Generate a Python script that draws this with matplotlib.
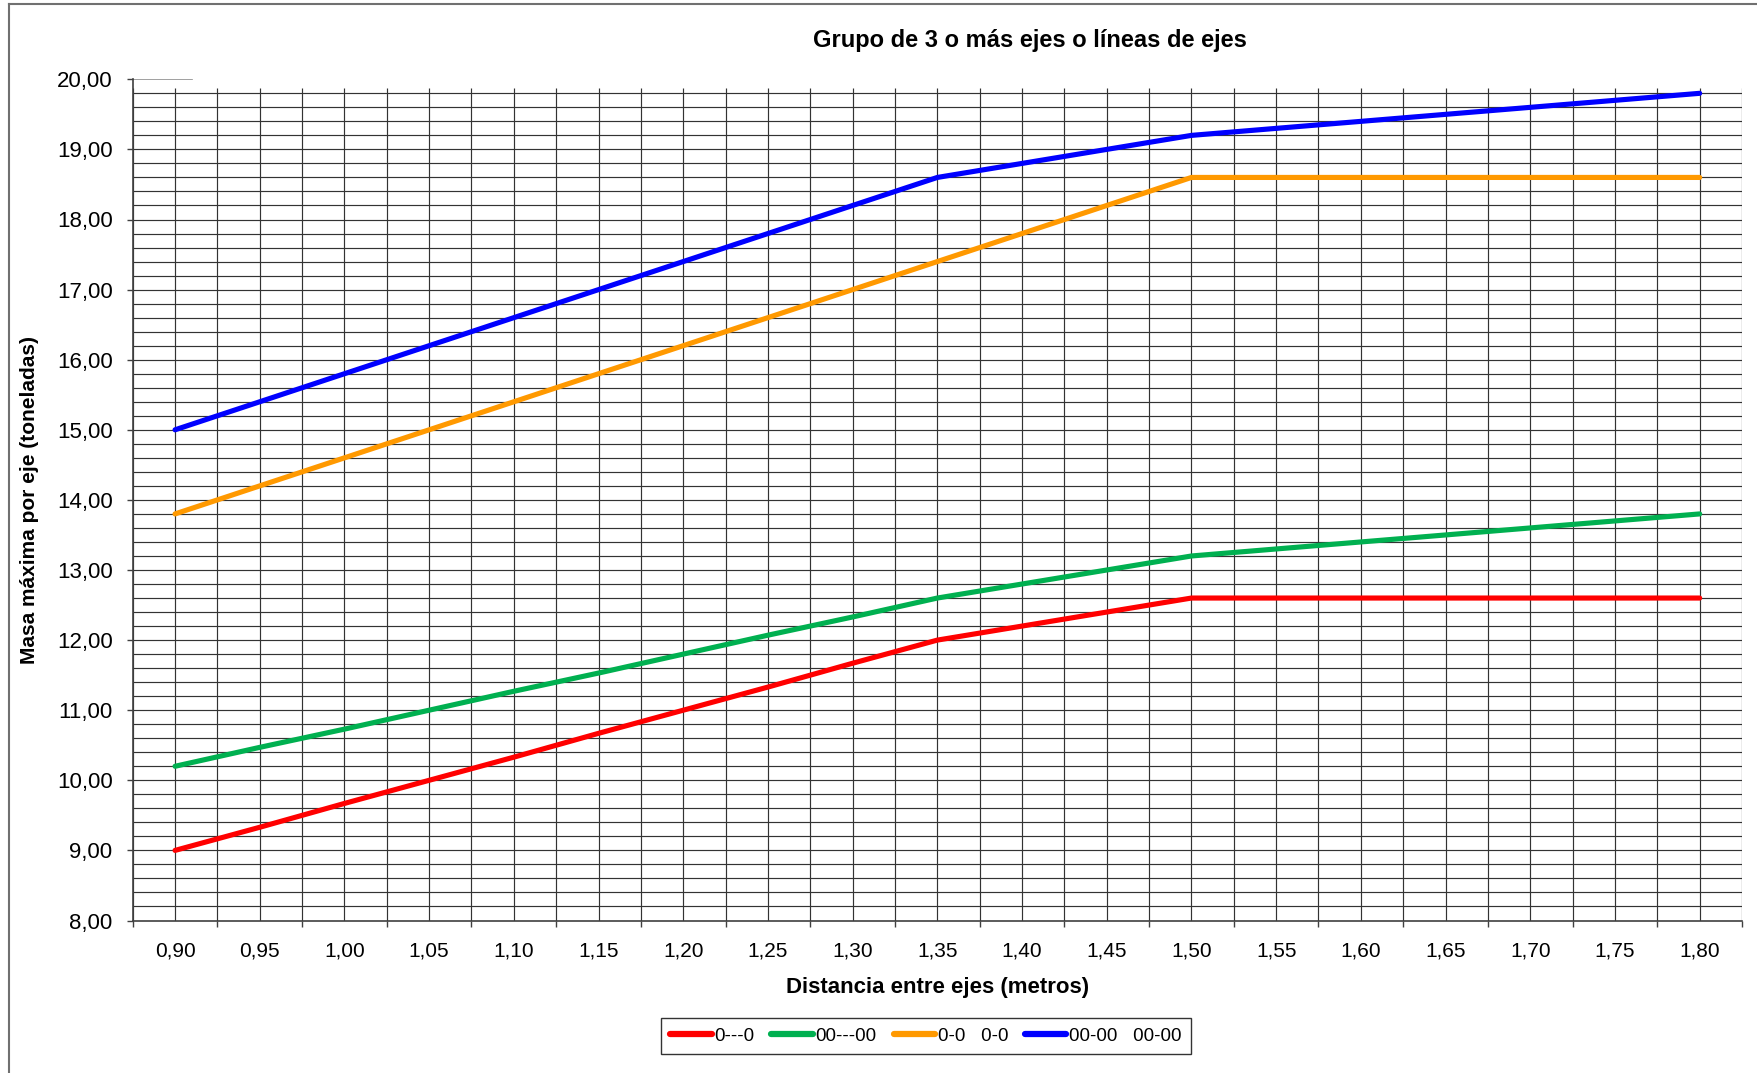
import matplotlib
matplotlib.use("Agg")
import matplotlib.pyplot as plt
from matplotlib.lines import Line2D
import numpy as np

plt.rcParams['font.family'] = ['Liberation Sans', 'DejaVu Sans']

categories = ["0,90", "0,95", "1,00", "1,05", "1,10", "1,15", "1,20", "1,25", "1,30", "1,35",
              "1,40", "1,45", "1,50", "1,55", "1,60", "1,65", "1,70", "1,75", "1,80"]
red_0_0 = [9.00, 9.33, 9.67, 10.00, 10.33, 10.67, 11.00, 11.33, 11.67, 12.00,
           12.20, 12.40, 12.60, 12.60, 12.60, 12.60, 12.60, 12.60, 12.60]
green_00_00 = [10.20, 10.47, 10.73, 11.00, 11.27, 11.53, 11.80, 12.07, 12.33, 12.60,
               12.80, 13.00, 13.20, 13.30, 13.40, 13.50, 13.60, 13.70, 13.80]
orange_00 = [13.80, 14.20, 14.60, 15.00, 15.40, 15.80, 16.20, 16.60, 17.00, 17.40,
             17.80, 18.20, 18.60, 18.60, 18.60, 18.60, 18.60, 18.60, 18.60]
blue_0000 = [15.00, 15.40, 15.80, 16.20, 16.60, 17.00, 17.40, 17.80, 18.20, 18.60,
             18.80, 19.00, 19.20, 19.30, 19.40, 19.50, 19.60, 19.70, 19.80]
labels = ["0---0", "00---00", "0-0   0-0", "00-00   00-00"]
colors = ["#FF0000", "#00B050", "#FF9900", "#0000FF"]
series = [red_0_0, green_00_00, orange_00, blue_0000]
y_ticks = [8, 9, 10, 11, 12, 13, 14, 15, 16, 17, 18, 19, 20]

W, H = 1758, 1073
fig = plt.figure(figsize=(W / 100, H / 100), dpi=100)
left, right, top, bottom = 132.7, 1742, 79.3, 920.5
ax = fig.add_axes([left / W, 1 - bottom / H, (right - left) / W, (bottom - top) / H])

n = len(categories)
x = np.arange(n)
ax.set_xlim(-0.5, n - 0.5)
ax.set_ylim(8, 20)

grid_top = 19.875
grid_col = "#333333"
for yv in np.arange(8.2, 19.81, 0.2):
    ax.axhline(yv, color=grid_col, lw=0.85, zorder=1)
ax.axhline(20, xmin=0, xmax=0.037, color="#909090", lw=1.2, zorder=1)
for xv in np.arange(-0.5, n - 0.4, 0.5):
    ax.plot([xv, xv], [8, grid_top], color=grid_col, lw=0.85, zorder=1, solid_capstyle='butt')

handles = []
for vals, lab, c in zip(series, labels, colors):
    ax.plot(x, vals, color=c, lw=3.7, zorder=3, solid_capstyle='round', solid_joinstyle='round')
    handles.append(Line2D([0], [0], color=c, lw=4.5, solid_capstyle='round', label=lab))

for s in ["top", "right"]:
    ax.spines[s].set_visible(False)
for s in ["left", "bottom"]:
    ax.spines[s].set_color("#404040")
    ax.spines[s].set_linewidth(1.2)

ax.set_yticks(y_ticks)
ax.set_yticklabels([f"{v:.2f}".replace(".", ",") for v in y_ticks])
ax.set_xticks(x)
ax.set_xticklabels(categories)
ax.set_xticks(np.arange(-0.5, n, 1.0), minor=True)
ax.tick_params(axis='x', which='major', length=0, pad=15, labelsize=15)
ax.tick_params(axis='x', which='minor', length=4, width=1.0, color="#404040")
ax.tick_params(axis='y', which='major', length=4.5, width=1.0, color="#404040", pad=10, labelsize=16)

fig.text(1030 / W, 1 - 40 / H, "Grupo de 3 o más ejes o líneas de ejes", ha='center', va='center',
         fontsize=17, fontweight='bold')
fig.text(938 / W, 1 - 987 / H, "Distancia entre ejes (metros)", ha='center', va='center',
         fontsize=16, fontweight='bold')
fig.text(30 / W, 1 - 500 / H, "Masa máxima por eje (toneladas)", ha='center', va='center',
         rotation=90, fontsize=15, fontweight='bold')

leg = fig.legend(handles=handles, loc='center', bbox_to_anchor=(926 / W, 1 - 1036 / H),
                 ncol=4, fontsize=13.5, frameon=True, fancybox=False, handlelength=2.2,
                 handletextpad=0.15, columnspacing=0.9, borderpad=0.5, borderaxespad=0)
leg.get_frame().set_edgecolor("black")
leg.get_frame().set_linewidth(1.0)

fig.add_artist(Line2D([9 / W, 9 / W], [0, 1 - 4 / H], color="#707070", lw=1.5, transform=fig.transFigure))
fig.add_artist(Line2D([9 / W, 1], [1 - 4 / H, 1 - 4 / H], color="#707070", lw=1.5, transform=fig.transFigure))

fig.savefig("out.png", dpi=100)
